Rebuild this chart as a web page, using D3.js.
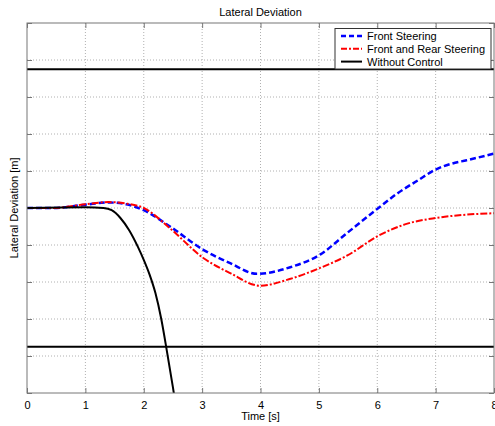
<!DOCTYPE html>
<html><head><meta charset="utf-8">
<script src="https://cdn.jsdelivr.net/npm/d3@7"></script>
<style>
body{margin:0;background:#fff;}
svg{display:block;font-family:"Liberation Sans",Arial,sans-serif;}
</style></head>
<body><svg id="c" width="495" height="426"></svg>
<script>
const title = "Lateral Deviation";
const xLabel = "Time [s]";
const yLabel = "Lateral Deviation [m]";
const xTicks = [0,1,2,3,4,5,6,7,8];
const yTicks = [-5,-4,-3,-2,-1,0,1,2,3,4,5];
const roadLimits = [3.75, -3.75];
const seriesNames = ["Front Steering","Front and Rear Steering","Without Control"];

const frontT = [0,0.45,1.0,1.39,1.7,2.0,2.45,3.02,3.48,3.94,4.51,5.02,5.48,6.02,6.35,6.7,7.0,7.28,7.53,8.0];
const frontY = [0,0,0.09,0.15,0.1,-0.06,-0.5,-1.13,-1.49,-1.78,-1.6,-1.26,-0.68,0,0.4,0.75,1.04,1.2,1.29,1.47];

const rearT = [0,0.45,1.0,1.39,1.7,2.0,2.45,3.02,3.48,3.99,4.5,5.02,5.48,6.02,6.5,7.0,7.53,8.0];
const rearY = [0,0,0.1,0.16,0.12,0.0,-0.55,-1.35,-1.76,-2.1,-1.92,-1.62,-1.29,-0.75,-0.43,-0.27,-0.18,-0.14];

const noCtrlT = [0,1.0,1.31,1.45,1.6,1.75,1.9,2.0,2.1,2.2,2.3,2.4,2.5,2.56];
const noCtrlY = [0,0.02,0,-0.06,-0.27,-0.6,-1.05,-1.4,-1.8,-2.3,-3.0,-3.9,-4.85,-5.45];

const svg = d3.select("#c");
const L=27,T=23,R=494,B=393;
const x = d3.scaleLinear().domain([0,8]).range([L,R]);
const y = d3.scaleLinear().domain([-5,5]).range([B,T]);

// grid
const g = svg.append("g");
g.selectAll(".gx").data(xTicks.slice(1,-1)).join("line")
  .attr("x1",d=>x(d)).attr("x2",d=>x(d)).attr("y1",T).attr("y2",B)
  .attr("stroke","#b0b0b0").attr("stroke-width",1).attr("stroke-dasharray","1,2");
g.selectAll(".gy").data(yTicks.slice(1,-1)).join("line")
  .attr("y1",d=>y(d)).attr("y2",d=>y(d)).attr("x1",L).attr("x2",R)
  .attr("stroke","#b0b0b0").attr("stroke-width",1).attr("stroke-dasharray","1,2");

// axes
const xAxis = d3.axisBottom(x).tickValues(xTicks).tickSize(-5).tickPadding(8).tickFormat(d3.format("d"));
const ax = svg.append("g").attr("transform",`translate(0,${B})`).call(xAxis);
ax.select(".domain").remove();
ax.selectAll(".tick line").attr("stroke","#777");
ax.selectAll("text").attr("font-size",11).attr("fill","#000").attr("font-family","Liberation Sans, Arial, sans-serif");
const axT = svg.append("g").attr("transform",`translate(0,${T})`).call(d3.axisTop(x).tickValues(xTicks).tickSize(-5).tickFormat(""));
axT.select(".domain").remove(); axT.selectAll(".tick line").attr("stroke","#777");
const ayL = svg.append("g").attr("transform",`translate(${L},0)`).call(d3.axisLeft(y).tickValues(yTicks).tickSize(-5).tickFormat(""));
ayL.select(".domain").remove(); ayL.selectAll(".tick line").attr("stroke","#777");
const ayR = svg.append("g").attr("transform",`translate(${R},0)`).call(d3.axisRight(y).tickValues(yTicks).tickSize(-5).tickFormat(""));
ayR.select(".domain").remove(); ayR.selectAll(".tick line").attr("stroke","#777");

svg.append("clipPath").attr("id","clip").append("rect").attr("x",L).attr("y",T).attr("width",R-L).attr("height",B-T);
const plot = svg.append("g").attr("clip-path","url(#clip)");

const line = d3.line().x(d=>x(d[0])).y(d=>y(d[1])).curve(d3.curveMonotoneX);
const zip=(a,b)=>a.map((v,i)=>[v,b[i]]);

plot.append("path").datum(zip(frontT,frontY)).attr("d",line)
  .attr("fill","none").attr("stroke","#0000ff").attr("stroke-width",2.5).attr("stroke-dasharray","6,3");
plot.append("path").datum(zip(rearT,rearY)).attr("d",line)
  .attr("fill","none").attr("stroke","#ff0000").attr("stroke-width",2).attr("stroke-dasharray","7,2,2,2");
plot.append("path").datum(zip(noCtrlT,noCtrlY)).attr("d",line)
  .attr("fill","none").attr("stroke","#000").attr("stroke-width",2);

plot.selectAll(".road").data(roadLimits).join("line")
  .attr("x1",L).attr("x2",R).attr("y1",d=>y(d)).attr("y2",d=>y(d))
  .attr("stroke","#000").attr("stroke-width",2);

// frame
svg.append("rect").attr("x",L).attr("y",T).attr("width",R-L).attr("height",B-T)
  .attr("fill","none").attr("stroke","#777").attr("stroke-width",1);

// labels
svg.append("text").attr("x",(L+R)/2).attr("y",16).attr("text-anchor","middle").attr("font-size",11).text(title);
svg.append("text").attr("x",(L+R)/2).attr("y",420).attr("text-anchor","middle").attr("font-size",11).text(xLabel);
svg.append("text").attr("transform",`translate(18,${(T+B)/2}) rotate(-90)`).attr("text-anchor","middle").attr("font-size",11).text(yLabel);

// legend
const lg = svg.append("g");
lg.append("rect").attr("x",335).attr("y",28.5).attr("width",156).attr("height",40.5)
  .attr("fill","#fff").attr("stroke","#333").attr("stroke-width",1);
const styles = [
  {c:"#0000ff",w:2.5,da:"5,3"},
  {c:"#ff0000",w:2,da:"6,2,2,2"},
  {c:"#000",w:2,da:null}
];
seriesNames.forEach((n,i)=>{
  const yy = 36 + i*12.8;
  lg.append("line").attr("x1",341).attr("x2",362).attr("y1",yy).attr("y2",yy)
    .attr("stroke",styles[i].c).attr("stroke-width",styles[i].w).attr("stroke-dasharray",styles[i].da);
  lg.append("text").attr("x",367).attr("y",yy+4).attr("font-size",11).text(n);
});
</script></body></html>
